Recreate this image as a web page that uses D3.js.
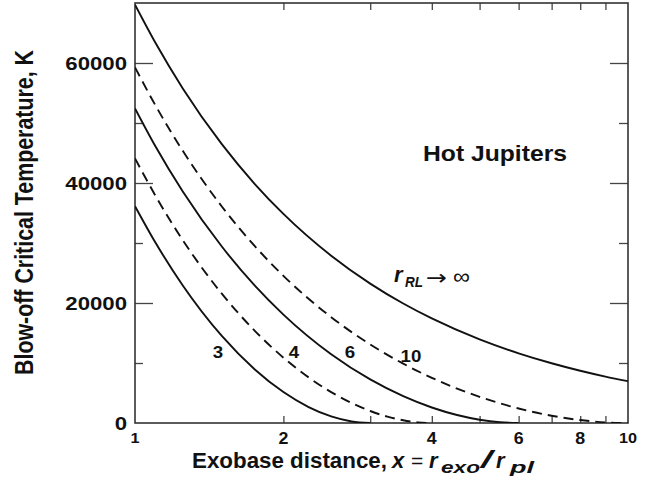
<!DOCTYPE html>
<html><head><meta charset="utf-8">
<script src="https://cdn.jsdelivr.net/npm/d3@7"></script>
<style>body{margin:0;background:#fff} text{font-family:"Liberation Sans",Arial,Helvetica,sans-serif;fill:#111}</style>
</head><body><svg id="c" width="654" height="484"></svg>
<script>
// Exobase distance x and blow-off temperature T (K)
const x3  = [1, 1.1, 1.25, 1.5, 1.75, 2, 2.25, 2.5, 2.75, 3];
const t3  = [36140, 30080, 22930, 14520, 8930, 5160, 2660, 1100, 260, 0];
const x4  = [1, 1.1, 1.25, 1.5, 1.75, 2, 2.25, 2.5, 2.75, 3, 3.25, 3.5, 3.75, 4];
const t4  = [44110, 37890, 30470, 21550, 15360, 10890, 7600, 5150, 3330, 2000, 1060, 450, 110, 0];
const x6  = [1, 1.1, 1.25, 1.5, 1.75, 2, 2.5, 3, 3.5, 4, 4.5, 5, 5.5, 6];
const t6  = [52440, 46130, 38590, 29410, 22900, 18070, 11460, 7260, 4470, 2580, 1330, 550, 130, 0];
const x10 = [1, 1.1, 1.25, 1.5, 1.75, 2, 2.5, 3, 3.5, 4, 5, 6, 7, 8, 9, 10];
const t10 = [59280, 52950, 45360, 36090, 29480, 24530, 17640, 13090, 9890, 7530, 4360, 2420, 1210, 490, 110, 0];
const xInf = [1, 1.1, 1.25, 1.5, 1.75, 2, 2.5, 3, 3.5, 4, 5, 6, 7, 8, 9, 10];
const tInf = [69700, 63360, 55760, 46470, 39830, 34850, 27880, 23230, 19910, 17430, 13940, 11620, 9960, 8710, 7740, 6970];

const seriesNames = ["3", "4", "6", "10", "inf"];
const seriesDashed = [false, true, false, true, false];

const yMajorTicks = [0, 20000, 40000, 60000];
const yMinorTicks = [10000, 30000, 50000];
const yTickLabels = ["0", "20000", "40000", "60000"];
const xMinorTicks = [2, 3, 4, 5, 6, 7, 8, 9];
const xTickValues = [1, 2, 4, 6, 8, 10];
const xTickLabels = ["1", "2", "4", "6", "8", "10"];

const svg = d3.select("#c");
const X0 = 135, X1 = 628, Y0 = 3, Y1 = 423;
const x = d3.scaleLog().domain([1, 10]).range([X0, X1]);
const y = d3.scaleLinear().domain([0, 70000]).range([Y1, Y0]);

svg.append("defs").append("clipPath").attr("id", "clip")
  .append("rect").attr("x", X0).attr("y", Y0).attr("width", X1 - X0).attr("height", Y1 - Y0);

// axes with inward ticks
function styleAxis(g) {
  g.select(".domain").remove();
  g.selectAll(".tick line").attr("stroke", "#444").attr("stroke-width", 1.3);
  g.selectAll(".tick text").remove();
}
svg.append("g").attr("transform", `translate(${X0},0)`)
  .call(d3.axisLeft(y).tickValues(yMajorTicks.slice(1)).tickSize(-18).tickFormat("")).call(styleAxis);
svg.append("g").attr("transform", `translate(${X0},0)`)
  .call(d3.axisLeft(y).tickValues(yMinorTicks).tickSize(-8).tickFormat("")).call(styleAxis);
svg.append("g").attr("transform", `translate(${X1},0)`)
  .call(d3.axisRight(y).tickValues(yMajorTicks.slice(1)).tickSize(-18).tickFormat("")).call(styleAxis);
svg.append("g").attr("transform", `translate(${X1},0)`)
  .call(d3.axisRight(y).tickValues(yMinorTicks).tickSize(-9).tickFormat("")).call(styleAxis);
svg.append("g").attr("transform", `translate(0,${Y1})`)
  .call(d3.axisBottom(x).tickValues(xMinorTicks).tickSize(-7).tickFormat("")).call(styleAxis);
svg.append("g").attr("transform", `translate(0,${Y0})`)
  .call(d3.axisTop(x).tickValues(xMinorTicks).tickSize(-7).tickFormat("")).call(styleAxis);

svg.append("rect").attr("x", X0).attr("y", Y0).attr("width", X1 - X0).attr("height", Y1 - Y0)
  .attr("fill", "none").attr("stroke", "#333").attr("stroke-width", 1.6);

// curves
const xsList = [x3, x4, x6, x10, xInf];
const tsList = [t3, t4, t6, t10, tInf];
const line = d3.line().x(d => x(d[0])).y(d => y(d[1])).curve(d3.curveMonotoneX);
const curves = svg.append("g").attr("clip-path", "url(#clip)");
seriesNames.forEach((n, i) => {
  const pts = xsList[i].map((v, j) => [v, tsList[i][j]]);
  curves.append("path").datum(pts).attr("d", line)
    .attr("fill", "none").attr("stroke", "#111").attr("stroke-width", 1.9)
    .attr("stroke-dasharray", seriesDashed[i] ? "10,6" : null);
});

// text helper
function txt(str, px, py, o = {}) {
  const t = svg.append("text")
    .attr("transform", `translate(${px},${py}) scale(${o.sx || 1},1)` + (o.rot ? ` rotate(${o.rot})` : ""))
    .attr("font-size", o.fs || 16)
    .attr("font-weight", o.w || "bold")
    .attr("font-style", o.it ? "italic" : "normal")
    .attr("text-anchor", o.anchor || "start")
    .text(str);
  if (o.ff) t.style("font-family", o.ff);
  if (o.len) t.attr("textLength", o.len).attr("lengthAdjust", "spacingAndGlyphs");
  return t;
}

// y tick labels
yMajorTicks.forEach((v, i) => txt(yTickLabels[i], 127, y(v) + 7, {fs: 18.5, sx: 1.2, anchor: "end"}));
// x tick labels
xTickValues.forEach((v, i) => {
  const small = (xTickLabels[i] === "1" || xTickLabels[i] === "10");
  txt(xTickLabels[i], x(v), small ? 443 : 444, {fs: small ? 15 : 16.5, sx: 1.08, anchor: "middle"});
});

// axis titles
txt("Blow-off Critical Temperature, K", 33, 212.5, {fs: 21, sx: 1.2, rot: -90, anchor: "middle", len: 325});
txt("Exobase distance,", 192, 468, {fs: 22, len: 195});
txt("x", 392, 468, {fs: 22, it: true});
txt("=", 411, 468, {fs: 21, w: "normal"});
txt("r", 429, 468, {fs: 22, it: true});
txt("exo", 441, 473, {fs: 17, it: true, len: 39});
txt("/", 481, 468, {fs: 23, it: true, len: 11});
txt("r", 496, 468, {fs: 22, it: true});
txt("pl", 510, 473, {fs: 17, it: true, len: 24});

// annotations
txt("Hot Jupiters", 423, 161, {fs: 22, len: 144});
txt("r", 394, 282, {fs: 22, it: true});
txt("RL", 405, 287, {fs: 15, it: true, len: 18});
txt("\u2192", 426, 285, {fs: 21, w: "normal", len: 21, ff: "DejaVu Sans"});
txt("\u221E", 453, 284, {fs: 22, w: "normal", len: 17});

// curve labels
const curveLabelPos = [[218, 358], [294, 358], [350, 358], [411, 362]];
["3", "4", "6", "10"].forEach((s, i) => txt(s, curveLabelPos[i][0], curveLabelPos[i][1], {fs: 17, sx: 1.1, anchor: "middle"}));
</script></body></html>
